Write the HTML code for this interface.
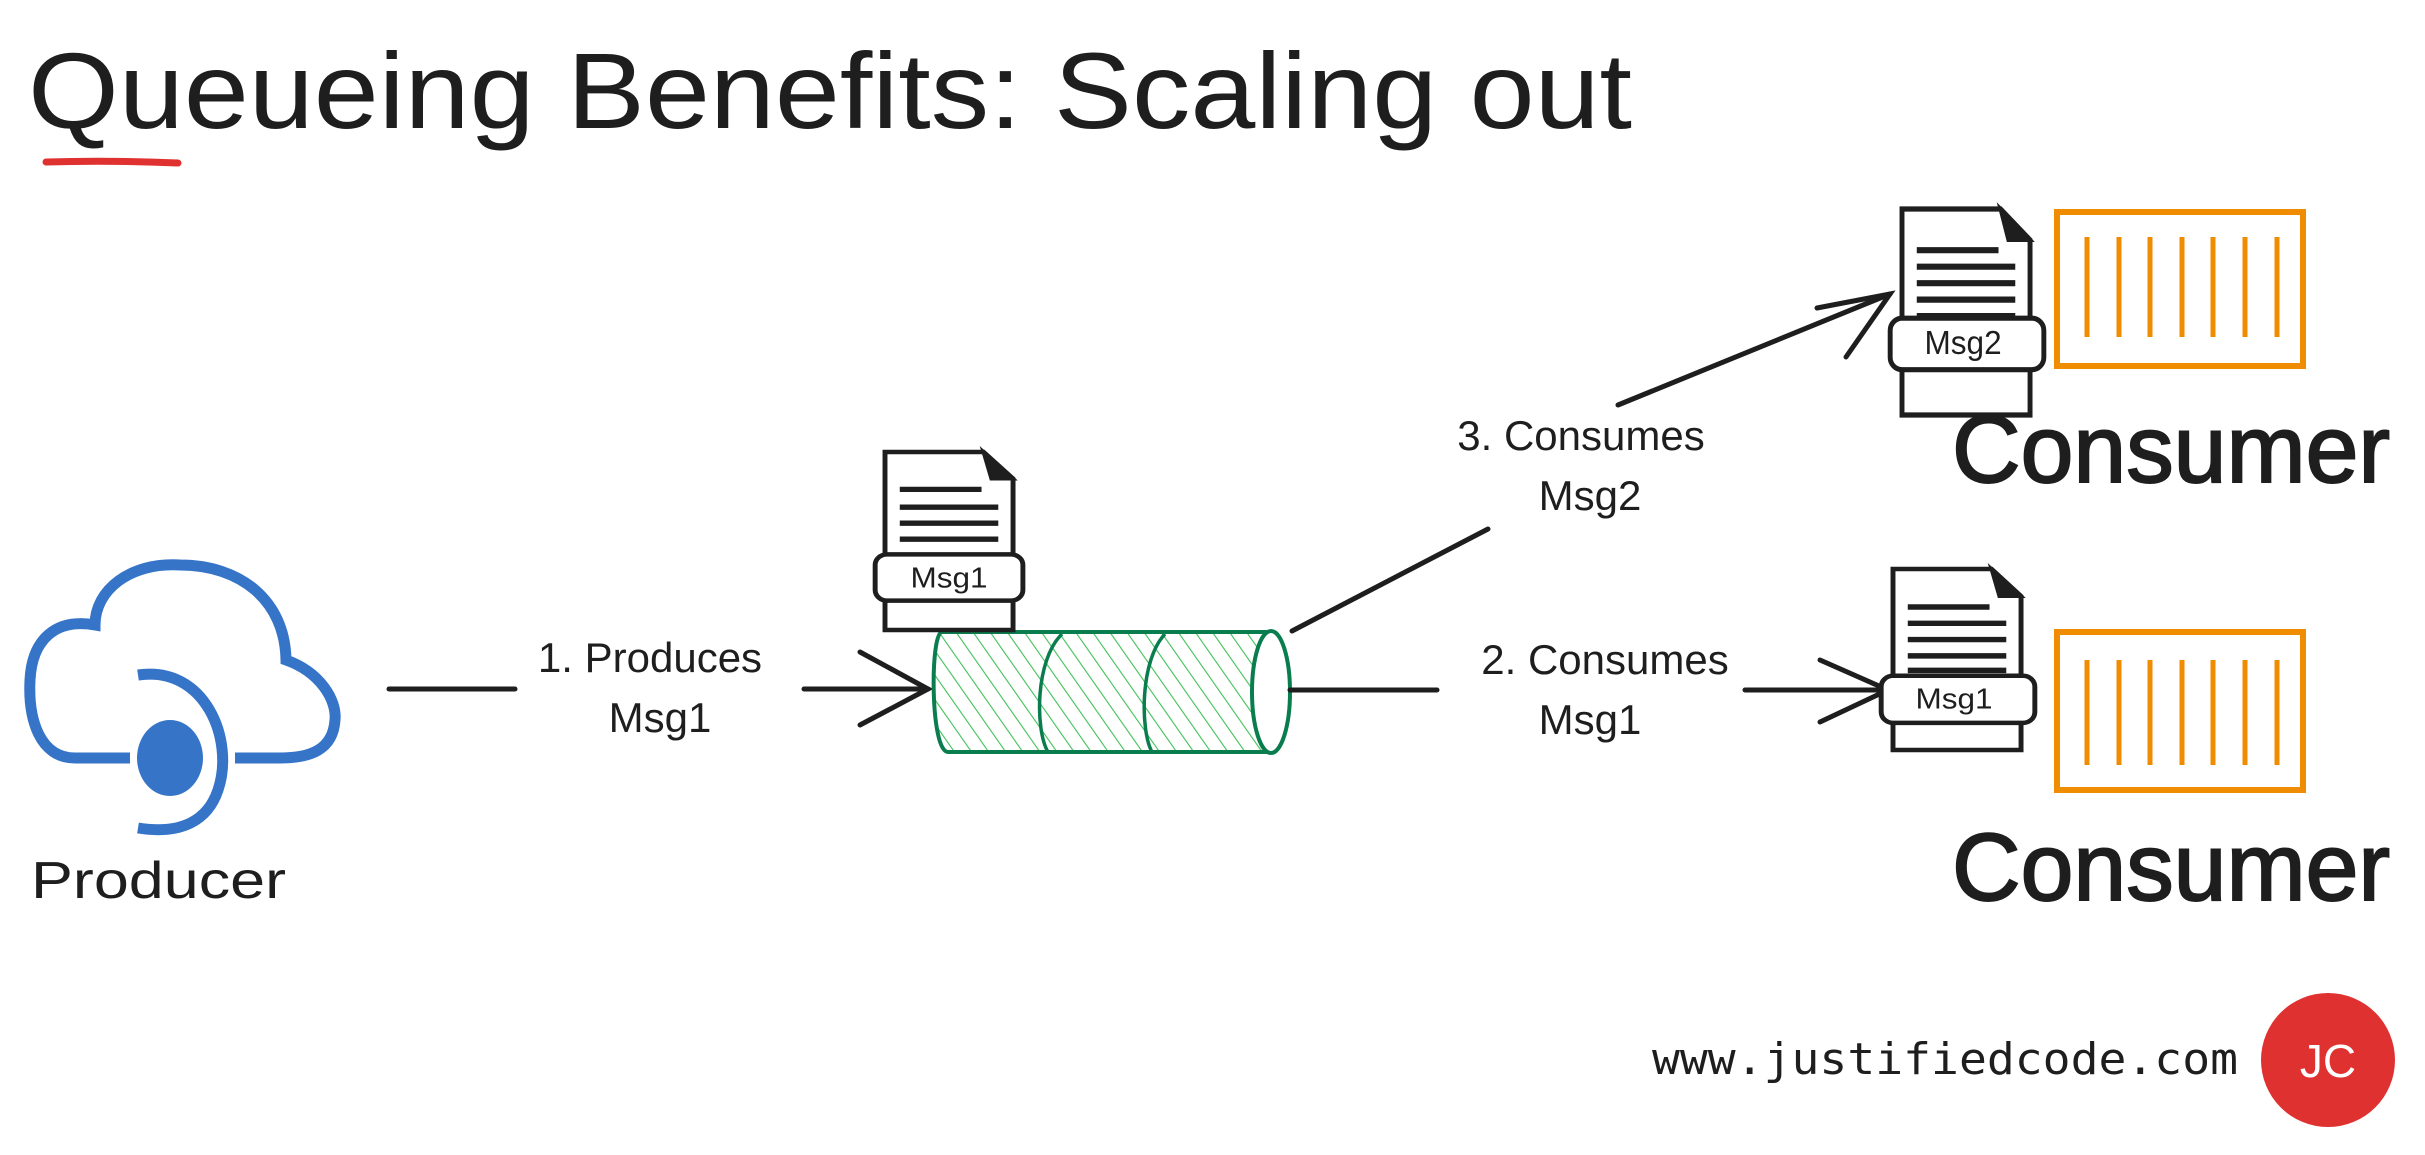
<!DOCTYPE html>
<html><head><meta charset="utf-8"><style>
html,body{margin:0;padding:0;background:#fff;}
svg{display:block;}
</style></head><body>
<svg width="2425" height="1155" viewBox="0 0 2425 1155" xmlns="http://www.w3.org/2000/svg" font-family="'Liberation Sans', sans-serif">
<defs>
<pattern id="hatch" width="14" height="14" patternUnits="userSpaceOnUse" patternTransform="rotate(-35)">
<line x1="0" y1="0" x2="0" y2="14" stroke="#40c057" stroke-width="2.2"/>
</pattern>
</defs>
<rect width="2425" height="1155" fill="#fff"/>

<!-- Title -->
<text x="28" y="128" font-size="108" fill="#1e1e1e" textLength="1604" lengthAdjust="spacingAndGlyphs">Queueing Benefits: Scaling out</text>
<path d="M46 162 Q110 160 178 163" stroke="#e03131" stroke-width="7" fill="none" stroke-linecap="round"/>

<!-- Cloud producer -->
<g fill="none" stroke="#3674c8" stroke-width="11">
<path d="M130 758 H75 C40 758 28 720 30 680 C32 640 55 618 95 625 C95 590 130 562 180 565 C240 565 285 600 286 660 C320 672 337 700 335 720 C333 750 310 758 280 758 H235"/>
<path d="M138 675 C205 665 235 740 218 790 C208 820 182 835 138 828"/>
</g>
<ellipse cx="170" cy="758" rx="33" ry="38" fill="#3674c8"/>
<text x="31" y="898" font-size="52" fill="#1e1e1e" textLength="255" lengthAdjust="spacingAndGlyphs">Producer</text>

<!-- Arrow 1 -->
<g stroke="#1e1e1e" stroke-width="5" fill="none" stroke-linecap="round">
<line x1="389" y1="689" x2="515" y2="689"/>
<line x1="804" y1="689" x2="928" y2="689"/>
<path d="M860 652 L928 689 L860 725"/>
</g>
<text x="650" y="672" font-size="42" fill="#1e1e1e" text-anchor="middle">1. Produces</text>
<text x="660" y="732" font-size="42" fill="#1e1e1e" text-anchor="middle">Msg1</text>

<!-- Cylinder -->
<g>
<path d="M942 632 H1272 V752 H948 C930 752 930 632 942 632 Z" fill="url(#hatch)" stroke="#0a7d4f" stroke-width="4"/>
<path d="M1062 634 C1035 660 1035 730 1048 752" fill="none" stroke="#0a7d4f" stroke-width="3.5"/>
<path d="M1165 634 C1140 660 1140 730 1152 752" fill="none" stroke="#0a7d4f" stroke-width="3.5"/>
<ellipse cx="1271" cy="692" rx="19" ry="61" fill="#fff" stroke="#0a7d4f" stroke-width="4"/>
</g>

<!-- Doc above cylinder -->
<g transform="translate(885,452) scale(0.985,0.89)">
<path d="M0 0 H100 L130 30 V200 H0 Z" fill="#fff" stroke="#1e1e1e" stroke-width="5"/>
<path d="M100 0 L130 30 L108 30 Z" fill="#1e1e1e" stroke="#1e1e1e" stroke-width="4"/>
<g stroke="#1e1e1e" stroke-width="6"><line x1="15" y1="42" x2="98" y2="42"/><line x1="15" y1="62" x2="115" y2="62"/><line x1="15" y1="80" x2="115" y2="80"/><line x1="15" y1="98" x2="115" y2="98"/></g>
<rect x="-10" y="115" width="150" height="52" rx="12" fill="#fff" stroke="#1e1e1e" stroke-width="5"/>
<text x="65" y="152" font-size="32" fill="#1e1e1e" text-anchor="middle">Msg1</text>
</g>

<!-- Arrow 2 -->
<g stroke="#1e1e1e" stroke-width="5" fill="none" stroke-linecap="round">
<line x1="1290" y1="690" x2="1437" y2="690"/>
<line x1="1745" y1="690" x2="1888" y2="690"/>
<path d="M1820 660 L1888 690 L1820 722"/>
</g>
<text x="1605" y="674" font-size="42" fill="#1e1e1e" text-anchor="middle">2. Consumes</text>
<text x="1590" y="734" font-size="42" fill="#1e1e1e" text-anchor="middle">Msg1</text>

<!-- Arrow 3 -->
<g stroke="#1e1e1e" stroke-width="5" fill="none" stroke-linecap="round">
<line x1="1292" y1="631" x2="1488" y2="529"/>
<line x1="1618" y1="405" x2="1890" y2="294"/>
<path d="M1817 308 L1890 294 L1846 357"/>
</g>
<text x="1581" y="450" font-size="42" fill="#1e1e1e" text-anchor="middle">3. Consumes</text>
<text x="1590" y="510" font-size="42" fill="#1e1e1e" text-anchor="middle">Msg2</text>

<!-- Consumer 1 doc -->
<g transform="translate(1902,209) scale(0.985,1.03)">
<path d="M0 0 H100 L130 30 V200 H0 Z" fill="#fff" stroke="#1e1e1e" stroke-width="5"/>
<path d="M100 0 L130 30 L108 30 Z" fill="#1e1e1e" stroke="#1e1e1e" stroke-width="4"/>
<g stroke="#1e1e1e" stroke-width="6"><line x1="15" y1="40" x2="98" y2="40"/><line x1="15" y1="56" x2="115" y2="56"/><line x1="15" y1="72" x2="115" y2="72"/><line x1="15" y1="88" x2="115" y2="88"/><line x1="15" y1="104" x2="115" y2="104"/></g>
<rect x="-12" y="106" width="156" height="50" rx="12" fill="#fff" stroke="#1e1e1e" stroke-width="5"/>
<text x="62" y="141" font-size="32" fill="#1e1e1e" text-anchor="middle">Msg2</text>
</g>
<rect x="2057" y="212" width="246" height="154" fill="none" stroke="#f08c00" stroke-width="6"/>
<g stroke="#f08c00" stroke-width="5"><line x1="2087" y1="237" x2="2087" y2="337"/><line x1="2119" y1="237" x2="2119" y2="337"/><line x1="2150" y1="237" x2="2150" y2="337"/><line x1="2182" y1="237" x2="2182" y2="337"/><line x1="2213" y1="237" x2="2213" y2="337"/><line x1="2245" y1="237" x2="2245" y2="337"/><line x1="2277" y1="237" x2="2277" y2="337"/></g>
<text x="1952" y="482" font-size="96" fill="#1e1e1e" stroke="#1e1e1e" stroke-width="2" textLength="438" lengthAdjust="spacingAndGlyphs">Consumer</text>

<!-- Consumer 2 doc -->
<g transform="translate(1893,569) scale(0.985,0.905)">
<path d="M0 0 H100 L130 30 V200 H0 Z" fill="#fff" stroke="#1e1e1e" stroke-width="5"/>
<path d="M100 0 L130 30 L108 30 Z" fill="#1e1e1e" stroke="#1e1e1e" stroke-width="4"/>
<g stroke="#1e1e1e" stroke-width="6"><line x1="15" y1="42" x2="98" y2="42"/><line x1="15" y1="60" x2="115" y2="60"/><line x1="15" y1="78" x2="115" y2="78"/><line x1="15" y1="96" x2="115" y2="96"/><line x1="15" y1="112" x2="115" y2="112"/></g>
<rect x="-12" y="118" width="156" height="52" rx="12" fill="#fff" stroke="#1e1e1e" stroke-width="5"/>
<text x="62" y="154" font-size="32" fill="#1e1e1e" text-anchor="middle">Msg1</text>
</g>
<rect x="2057" y="632" width="246" height="158" fill="none" stroke="#f08c00" stroke-width="6"/>
<g stroke="#f08c00" stroke-width="5"><line x1="2087" y1="660" x2="2087" y2="765"/><line x1="2119" y1="660" x2="2119" y2="765"/><line x1="2150" y1="660" x2="2150" y2="765"/><line x1="2182" y1="660" x2="2182" y2="765"/><line x1="2213" y1="660" x2="2213" y2="765"/><line x1="2245" y1="660" x2="2245" y2="765"/><line x1="2277" y1="660" x2="2277" y2="765"/></g>
<text x="1952" y="900" font-size="96" fill="#1e1e1e" stroke="#1e1e1e" stroke-width="2" textLength="438" lengthAdjust="spacingAndGlyphs">Consumer</text>

<!-- Footer -->
<text x="1652" y="1074" font-family="'DejaVu Sans Mono','Liberation Mono',monospace" font-size="44" fill="#1e1e1e" textLength="586" lengthAdjust="spacingAndGlyphs">www.justifiedcode.com</text>
<circle cx="2328" cy="1060" r="67" fill="#e03131"/>
<text x="2328" y="1077" font-size="46" fill="#fff" text-anchor="middle">JC</text>
</svg>
</body></html>
